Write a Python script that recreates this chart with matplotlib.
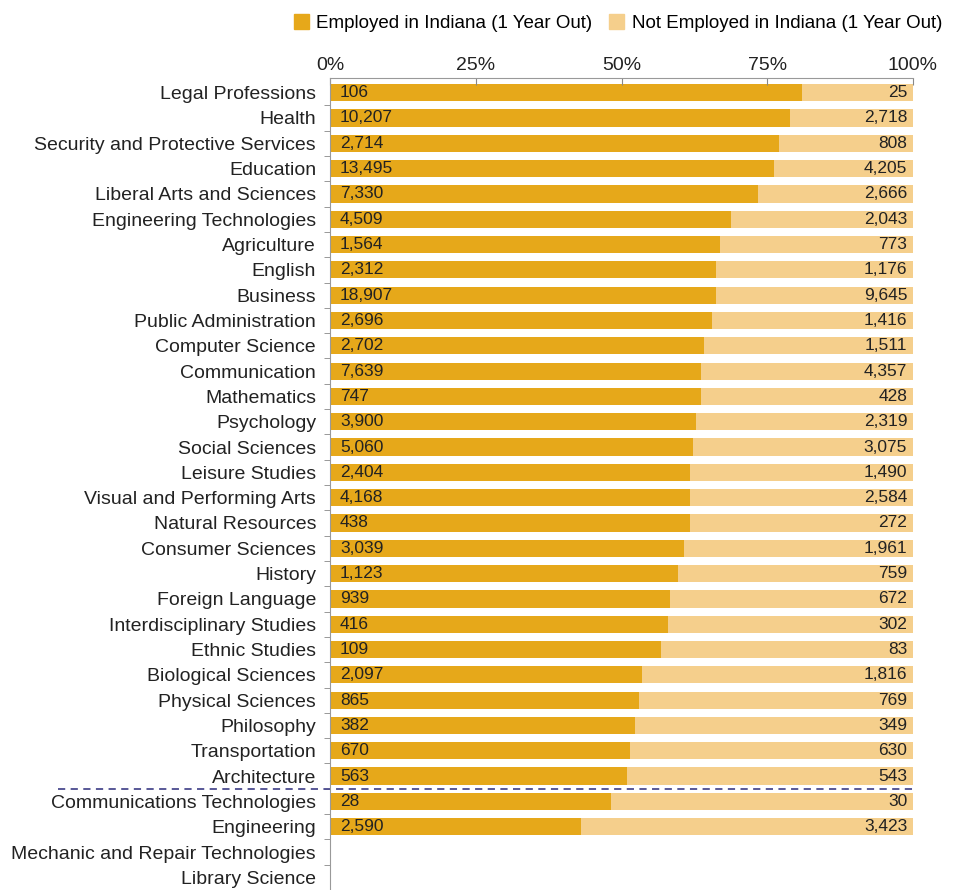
import numpy as np
import matplotlib.pyplot as plt
from matplotlib.patches import Patch

plt.rcParams['font.family'] = ['Liberation Sans', 'DejaVu Sans']

majors = ["Legal Professions", "Health", "Security and Protective Services", "Education",
          "Liberal Arts and Sciences", "Engineering Technologies", "Agriculture", "English",
          "Business", "Public Administration", "Computer Science", "Communication",
          "Mathematics", "Psychology", "Social Sciences", "Leisure Studies",
          "Visual and Performing Arts", "Natural Resources", "Consumer Sciences", "History",
          "Foreign Language", "Interdisciplinary Studies", "Ethnic Studies",
          "Biological Sciences", "Physical Sciences", "Philosophy", "Transportation",
          "Architecture", "Communications Technologies", "Engineering",
          "Mechanic and Repair Technologies", "Library Science"]
employed = [106, 10207, 2714, 13495, 7330, 4509, 1564, 2312, 18907, 2696, 2702, 7639,
            747, 3900, 5060, 2404, 4168, 438, 3039, 1123, 939, 416, 109, 2097, 865, 382,
            670, 563, 28, 2590, np.nan, np.nan]
not_employed = [25, 2718, 808, 4205, 2666, 2043, 773, 1176, 9645, 1416, 1511, 4357,
                428, 2319, 3075, 1490, 2584, 272, 1961, 759, 672, 302, 83, 1816, 769, 349,
                630, 543, 30, 3423, np.nan, np.nan]

c_emp = "#E6A81A"
c_not = "#F5CF8C"

emp = np.array(employed, dtype=float)
nemp = np.array(not_employed, dtype=float)
total = emp + nemp
share = emp / total
y = np.arange(len(majors))

fig = plt.figure(figsize=(9.62, 8.9), dpi=100)
ax = fig.add_axes([330 / 962, 0, 583 / 962, 1 - 78 / 890])

ax.barh(y, share, height=0.68, color=c_emp)
ax.barh(y, 1 - share, left=share, height=0.68, color=c_not)

for i in range(len(majors)):
    if np.isnan(emp[i]):
        continue
    ax.text(0.017, i, f"{int(emp[i]):,}", va="center", ha="left", fontsize=12.5, color="#222222")
    ax.text(0.99, i, f"{int(nemp[i]):,}", va="center", ha="right", fontsize=12.5, color="#222222")

ax.set_xlim(0, 1)
ax.set_ylim(len(majors) - 0.6, -0.58)
ax.set_yticks(y)
ax.set_yticklabels(majors, fontsize=14, color="#222222")
ax.set_yticks(np.arange(len(majors)) + 0.5, minor=True)
ax.tick_params(axis="y", which="major", length=0, pad=10)
ax.tick_params(axis="y", which="minor", length=4, color="#888888")

ax.xaxis.tick_top()
ax.set_xticks([0, 0.25, 0.5, 0.75, 1.0])
ax.set_xticklabels(["0%", "25%", "50%", "75%", "100%"], fontsize=14, color="#222222")
ax.tick_params(axis="x", direction="in", length=5, color="#888888", pad=3)

for s in ["right", "bottom"]:
    ax.spines[s].set_visible(False)
ax.spines["top"].set_color("#999999")
ax.spines["left"].set_color("#999999")

# separator between groups
ax.plot([-0.467, 1.0], [27.5, 27.5], ls=(0, (4, 3)), color="#4B4B8F", lw=1.3, clip_on=False)

handles = [Patch(color=c_emp), Patch(color=c_not)]
fig.legend(handles, ["Employed in Indiana (1 Year Out)", "Not Employed in Indiana (1 Year Out)"],
           loc="center", bbox_to_anchor=(618 / 962, 1 - 23 / 890), ncol=2, frameon=False,
           fontsize=13.5, handlelength=0.8, handleheight=0.8, handletextpad=0.4,
           columnspacing=0.9)

fig.savefig("out.png", dpi=100)
